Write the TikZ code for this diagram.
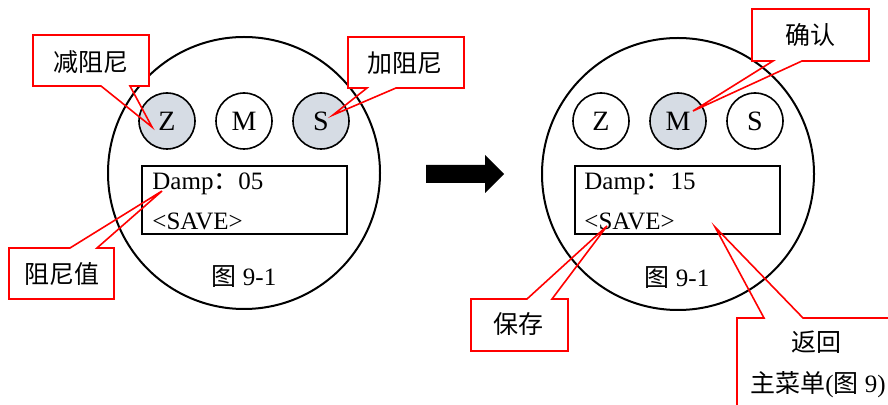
\documentclass[tikz,border=0pt]{standalone}
\usepackage{fontspec}
\setmainfont{Liberation Serif}
\newfontfamily\cjk{Noto Sans CJK SC}
\definecolor{btnfill}{RGB}{214,220,228}
\begin{document}
\begin{tikzpicture}[x=0.5pt,y=-0.5pt,
  txt/.style={font=\fontsize{12.5}{15}\selectfont, inner sep=0pt},
  btn/.style={circle, draw=black, line width=0.8pt, minimum size=28pt, inner sep=0pt, font=\fontsize{14}{16}\selectfont},
  pressed/.style={btn, fill=btnfill},
  dial/.style={draw=black, line width=1pt},
  screen/.style={draw=black, line width=0.65pt},
  callout/.style={draw=red, line width=0.8pt, line join=miter}]
\clip (0,0) rectangle (888,405);
\fill[white] (0,0) rectangle (888,405);

% ---------- left dial ----------
\draw[dial] (244,173) circle [radius=136];
\node[pressed] (lz) at (167,121) {Z};
\node[btn]     (lm) at (244,121) {M};
\node[pressed] (ls) at (321,121) {S};
\draw[screen] (142,166) rectangle (347,234);
\node[txt, anchor=west] (ldamp) at (152,184) {Damp{\cjk ：}05};
\node[txt, anchor=west] (lsave) at (152,221) {<SAVE>};
\node[txt] (lfig) at (244,277) {{\cjk 图} 9-1};

% ---------- arrow ----------
\fill[black] (426,165) -- (485,165) -- (485,155) -- (504,174) -- (485,193) -- (485,183) -- (426,183) -- cycle;

% ---------- right dial ----------
\draw[dial] (678,174) circle [radius=136];
\node[btn]     (rz) at (601,121) {Z};
\node[pressed] (rm) at (678,121) {M};
\node[btn]     (rs) at (755,121) {S};
\draw[screen] (575,166) rectangle (780,234);
\node[txt, anchor=west] (rdamp) at (584,184) {Damp{\cjk ：}15};
\node[txt, anchor=west] (rsave) at (584,221) {<SAVE>};
\node[txt] (rfig) at (677,278) {{\cjk 图} 9-1};

% ---------- callout tips ----------
\coordinate (t1) at (152,127);
\coordinate (t2) at (333,115);
\coordinate (t3) at (162,191);
\coordinate (t4) at (693,111);
\coordinate (t5) at (607,226);
\coordinate (t6) at (715,227);

% backgrounds of callout boxes
\fill[white] (33,35) rectangle (149,86);
\fill[white] (348,37) rectangle (464,88);
\fill[white] (9,248) rectangle (114,299);
\fill[white] (752,9) rectangle (869,61);
\fill[white] (471,299) rectangle (568,351);
\fill[white] (737,318) rectangle (900,420);

% outlines
\draw[callout] (33,35) -- (149,35) -- (149,86) -- (130,86) -- (t1) -- (101,86) -- (33,86) -- cycle;
\draw[callout] (348,37) -- (464,37) -- (464,88) -- (396,88) -- (t2) -- (367,88) -- (348,88) -- cycle;
\draw[callout] (9,248) -- (70,248) -- (t3) -- (97,248) -- (114,248) -- (114,299) -- (9,299) -- cycle;
\draw[callout] (752,9) -- (869,9) -- (869,61) -- (802,61) -- (t4) -- (773,61) -- (752,61) -- cycle;
\draw[callout] (471,299) -- (527,299) -- (t5) -- (552,299) -- (568,299) -- (568,351) -- (471,351) -- cycle;
\draw[callout] (737,420) -- (737,318) -- (764,318) -- (t6) -- (803,318) -- (900,318);

% callout texts
\node[txt] (c1) at (91,62) {\cjk 减阻尼};
\node[txt] (c2) at (405,63) {\cjk 加阻尼};
\node[txt] (c3) at (62,274) {\cjk 阻尼值};
\node[txt] (c4) at (810,35) {\cjk 确认};
\node[txt] (c5) at (518,324) {\cjk 保存};
\node[txt] (c6) at (816,342) {\cjk 返回};
\node[txt] (c7) at (818,385) {{\cjk 主菜单}({\cjk 图} 9)};
\end{tikzpicture}
\end{document}
